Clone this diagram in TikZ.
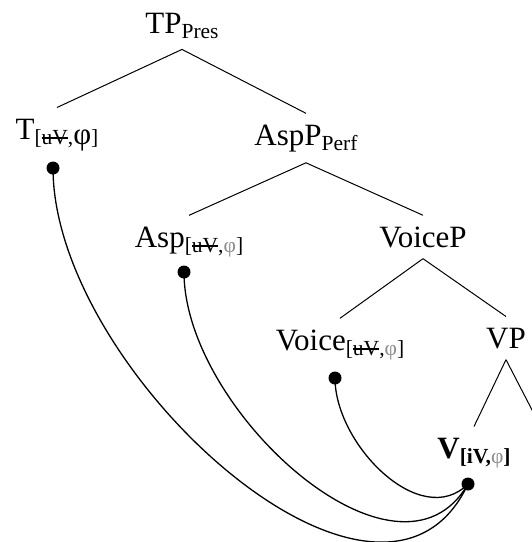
\documentclass[tikz,border=0pt]{standalone}
\usepackage{fontspec}
\setmainfont{Liberation Serif}
\usepackage{tikz}
\usepackage{xcolor}
\usetikzlibrary{positioning}

\definecolor{phigray}{gray}{0.55}
\newlength{\strikelen}
\newcommand{\feat}[1]{\raisebox{-5pt}{\fontsize{21.5}{24}\selectfont #1}}
\newcommand{\unval}{\settowidth{\strikelen}{uV}\rlap{uV}\rule[5.5pt]{\strikelen}{1.3pt}}

\begin{document}
\begin{tikzpicture}[x=1pt, y=1pt,
    cat/.style={inner sep=11pt, anchor=base, font=\fontsize{31}{36}\selectfont},
    dot/.style={circle, fill, inner sep=0pt, minimum size=13pt},
    branch/.style={line width=1pt},
    agree/.style={line width=1.3pt}]

            \clip (0,0) rectangle (532,-542);

            % the tree
            \node[cat] (TP) at (182,-33) {TP\feat{Pres}};
            \node[cat] (T) at (57,-139) {T\feat{[\unval,{\fontsize{31}{34}\selectfont φ}]}};
            \node[cat] (AspP) at (306,-145) {AspP\feat{Perf}};
            \node[cat] (Asp) at (189,-247) {Asp\feat{[\unval,\textcolor{phigray}{φ}]}};
            \node[cat] (VoiceP) at (423,-247) {VoiceP};
            \node[cat] (Voice) at (340,-350) {Voice\feat{[\unval,\textcolor{phigray}{φ}]}};
            \node[cat] (VP) at (506,-348) {VP};
            \node[cat] (V) at (474,-458) {\textbf{V}\feat{\bfseries[iV,\textcolor{phigray}{\mdseries φ}]}};
            \coordinate (VPcomp) at (545,-435);

            \path[branch]
            (TP.south) edge (T.north)
            (TP.south) edge (AspP.north)
            (AspP.south) edge (Asp.north)
            (AspP.south) edge (VoiceP.north)
            (VoiceP.south) edge (Voice.north)
            (VoiceP.south) edge (VP.north)
            (VP.south) edge (V.north)
            (VP.south) edge (VPcomp);

            % agreement links
            \node[dot] (Tdot) at (53,-168) {};
            \node[dot] (Aspdot) at (184,-272) {};
            \node[dot] (Voicedot) at (335,-378) {};
            \node[dot] (Vdot) at (468,-484) {};

            \draw[agree] (Tdot.center) to[out=-90, in=-115] (Vdot.center);
            \draw[agree] (Aspdot.center) to[out=-90, in=-120] (Vdot.center);
            \draw[agree] (Voicedot.center) to[out=-90, in=-135] (Vdot.center);

        \end{tikzpicture}
\end{document}
